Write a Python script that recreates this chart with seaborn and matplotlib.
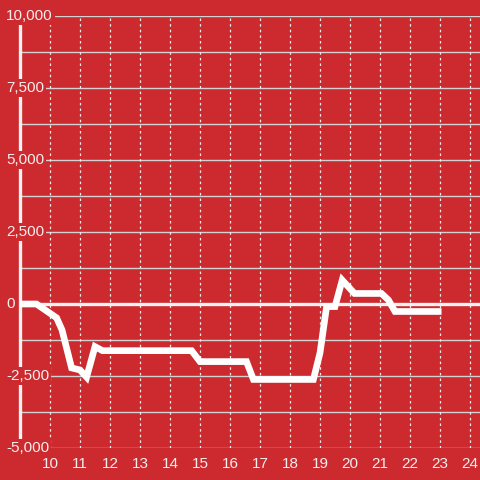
import numpy as np
import pandas as pd
import matplotlib
matplotlib.use("Agg")
import matplotlib.pyplot as plt
import seaborn as sns

# ─── DATA ───────────────────────────────────────────────────────────────────
x_vals = [9, 9.55, 10.22, 10.4, 10.72, 11.0, 11.22, 11.5, 11.75, 14.72, 15.0,
          16.55, 16.78, 18.78, 19.0, 19.22, 19.5, 19.74, 20.15, 21.05, 21.28,
          21.5, 23.05]
y_vals = [0, 0, -480, -900, -2220, -2290, -2540, -1480, -1620, -1620, -2000,
          -2000, -2620, -2620, -1700, -90, -90, 830, 365, 365, 140,
          -260, -260]
x_ticks = list(range(10, 25))
y_labels = [10000, 7500, 5000, 2500, 0, -2500, -5000]
y_grid = [v * 1250 for v in range(-4, 9)]

BG = "#cc2a2f"
FG = "#f4eeee"

sns.set_theme(style="white", rc={"figure.facecolor": BG, "axes.facecolor": BG})
plt.rcParams["font.family"] = ["Liberation Sans", "DejaVu Sans"]

fig = plt.figure(figsize=(4.8, 4.8), dpi=100)
ax = fig.add_axes([20 / 480, 32 / 480, 460 / 480, 432 / 480])

df = pd.DataFrame({"x": x_vals, "y": y_vals})
sns.lineplot(data=df, x="x", y="y", ax=ax, color="white", linewidth=4.8,
             sort=False, zorder=4, solid_joinstyle="miter",
             solid_capstyle="butt")

ax.set_xlim(9, 9 + 460 / 30)
ax.set_ylim(-5000, 10000)

# grid
for v in y_grid:
    ax.axhline(v, color="#d2d2d2", lw=1.0, zorder=1)
ax.axhline(0, color="#f2f2f2", lw=2.4, zorder=2)
for v in x_ticks:
    ax.axvline(v, color="#eeeeee", lw=0.9, ls=(0, (2, 2.5)), zorder=1)

for s in ["top", "right", "bottom"]:
    ax.spines[s].set_visible(False)
ax.spines["left"].set_color("#f2f2f2")
ax.spines["left"].set_linewidth(2.4)
ax.spines["left"].set_zorder(2.5)

ax.set_yticks([])
ax.set_xticks(x_ticks)
ax.set_xticklabels([str(v) for v in x_ticks], color=FG, fontsize=11)
ax.tick_params(axis="x", length=0, pad=6.5)
ax.set_xlabel("")
ax.set_ylabel("")

# y labels drawn over the spine with a background box
for v in y_labels:
    ax.text(-14 / 460, v, f"{v:,}", transform=ax.get_yaxis_transform(),
            ha="left", va="center", color=FG, fontsize=11, zorder=5,
            clip_on=False,
            bbox=dict(facecolor=BG, edgecolor="none", pad=1.5))

fig.savefig("out.png", dpi=100, facecolor=BG)
